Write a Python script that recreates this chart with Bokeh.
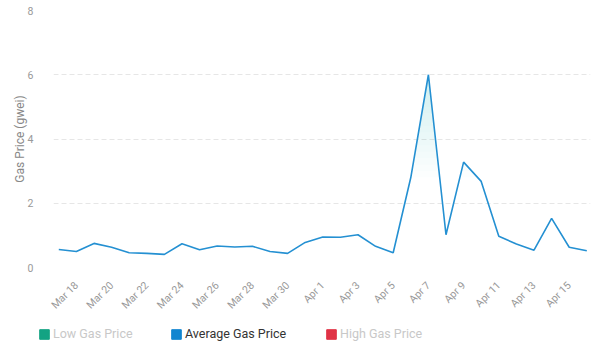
import numpy as np
from bokeh.plotting import figure
from bokeh.layouts import column
from bokeh.models import (FixedTicker, Range1d, Legend, LegendItem, ColumnDataSource)
from bokeh.embed import file_html
from bokeh.resources import INLINE

# ---- data ----
dates = ["Mar 17", "Mar 18", "Mar 19", "Mar 20", "Mar 21", "Mar 22", "Mar 23", "Mar 24",
         "Mar 25", "Mar 26", "Mar 27", "Mar 28", "Mar 29", "Mar 30", "Mar 31", "Apr 1",
         "Apr 2", "Apr 3", "Apr 4", "Apr 5", "Apr 6", "Apr 7", "Apr 8", "Apr 9", "Apr 10",
         "Apr 11", "Apr 12", "Apr 13", "Apr 14", "Apr 15", "Apr 16"]
avg_gas = [0.56, 0.50, 0.75, 0.63, 0.46, 0.44, 0.41, 0.74, 0.55, 0.67, 0.64, 0.66,
           0.50, 0.44, 0.78, 0.95, 0.94, 1.02, 0.66, 0.46, 2.80, 6.00, 1.02, 3.28,
           2.68, 0.97, 0.73, 0.54, 1.53, 0.63, 0.52]
tick_idx = list(range(1, len(dates), 2))
y_ticks = [0, 2, 4, 6, 8]
series_names = ["Low Gas Price", "Average Gas Price", "High Gas Price"]
series_colors = ["#13a383", "#1185d0", "#e03346"]
series_active = [False, True, False]

LINE = "#2490d2"
FONT = "Roboto"

x = np.arange(len(avg_gas))
y = np.array(avg_gas)

p = figure(width=600, height=318, output_backend="svg", toolbar_location=None,
           x_range=Range1d(-0.30, len(dates) - 1 + 0.21), y_range=Range1d(0, 8),
           min_border_left=53, min_border_right=10, min_border_top=10, min_border_bottom=50)
p.outline_line_color = None
p.background_fill_color = "white"
p.border_fill_color = "white"

# gradient-like fill under the line (layered translucent bands)
xf = np.linspace(0, len(dates) - 1, (len(dates) - 1) * 60 + 1)
yf = np.interp(xf, x, y)
for h in np.arange(2.8, 6.0, 0.2):
    p.varea(x=xf, y1=np.minimum(yf, h), y2=yf, fill_color=LINE, fill_alpha=0.013)

p.line(x, y, line_color=LINE, line_width=1.6)

# axes
p.xaxis.ticker = FixedTicker(ticks=tick_idx)
p.xaxis.major_label_overrides = {i: dates[i] for i in tick_idx}
p.xaxis.major_label_orientation = np.pi / 4
p.yaxis.ticker = FixedTicker(ticks=y_ticks)
for ax in (p.xaxis[0], p.yaxis[0]):
    ax.axis_line_color = None
    ax.major_tick_line_color = None
    ax.minor_tick_line_color = None
    ax.major_label_text_font = FONT
    ax.major_label_text_color = "#999999"
    ax.major_label_text_font_size = "10.5px"
p.xaxis.major_label_standoff = 10
p.yaxis.major_label_standoff = 14
p.yaxis.axis_label = "Gas Price (gwei)"
p.yaxis.axis_label_text_font = FONT
p.yaxis.axis_label_text_font_style = "normal"
p.yaxis.axis_label_text_font_size = "12px"
p.yaxis.axis_label_text_color = "#888888"
p.yaxis.axis_label_standoff = -2

p.xgrid.grid_line_color = None
p.ygrid.grid_line_color = "#e6e6e6"
p.ygrid.grid_line_dash = "5 3"
p.ygrid.grid_line_width = 1

# legend strip (separate small figure so it is not clipped by the plot frame)
lf = figure(frame_width=600, frame_height=41, output_backend="svg", toolbar_location=None,
            x_range=Range1d(0, 1), y_range=Range1d(0, 1),
            x_axis_location=None, y_axis_location=None,
            min_border_left=0, min_border_right=0, min_border_top=0, min_border_bottom=0)
lf.grid.visible = False
lf.outline_line_color = None

offsets = [38, 170, 325]
for name, col, act, off in zip(series_names, series_colors, series_active, offsets):
    # placeholder renderer (outside the visible range) so the legend has a swatch
    src = ColumnDataSource(dict(l=[5], r=[6], b=[5], t=[6]))
    dummy = lf.quad(left="l", right="r", bottom="b", top="t", source=src,
                    fill_color=col, line_color=col)
    lg = Legend(items=[LegendItem(label=name, renderers=[dummy])],
                location=(off, 18), orientation="horizontal",
                padding=0, margin=0, spacing=0, label_standoff=3,
                glyph_width=12, glyph_height=12, label_height=12,
                border_line_color=None, background_fill_alpha=0,
                label_text_font=FONT, label_text_font_size="12.5px",
                label_text_color="#333333" if act else "#c8c8c8")
    lf.add_layout(lg, "center")

layout = column(p, lf, spacing=0)
open("out.html", "w").write(file_html(layout, INLINE))
